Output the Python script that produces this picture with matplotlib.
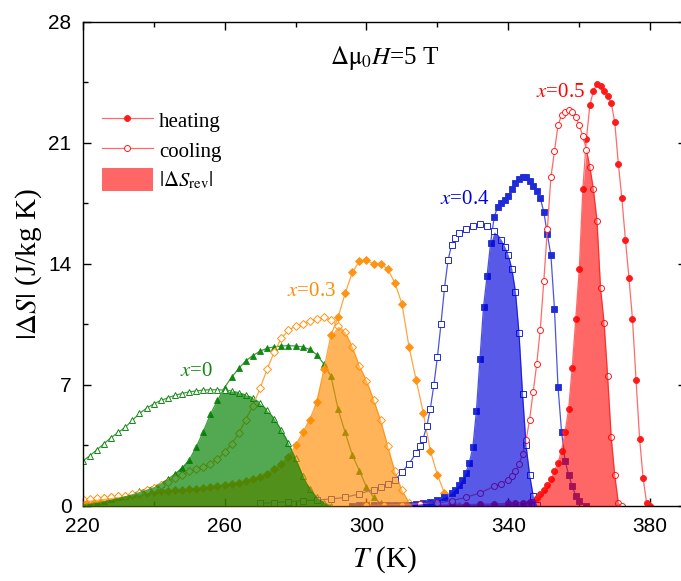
import numpy as np
import matplotlib
matplotlib.use("Agg")
import matplotlib.pyplot as plt
from matplotlib.patches import Patch

plt.rcParams["mathtext.fontset"] = "stix"
plt.rcParams["font.family"] = ["Liberation Serif", "DejaVu Serif"]

# x = 0 (triangles)
T_heat_0 = [220, 222, 224, 226, 228, 230, 232, 234, 236, 238, 240, 242, 244, 246, 248, 250, 252, 254,
            256, 258, 260, 262, 264, 266, 268, 270, 272, 274, 276, 278, 280, 282, 284, 286, 288, 290,
            292, 294, 296, 298, 300, 302, 304, 306]
S_heat_0 = [0.1, 0.17, 0.22, 0.3, 0.38, 0.5, 0.6, 0.72, 0.85, 1.0, 1.12, 1.3, 1.55, 1.85, 2.2, 2.65, 3.4, 4.3,
            5.3, 6.1, 6.85, 7.45, 7.95, 8.4, 8.7, 8.95, 9.12, 9.2, 9.25, 9.27, 9.25, 9.2, 9.05, 8.75, 8.2, 7.5,
            5.6, 4.25, 2.95, 2.05, 1.1, 0.5, 0.15, 0.02]
T_cool_0 = [220, 222, 224, 226, 228, 230, 232, 234, 236, 238, 240, 242, 244, 246, 248, 250, 252, 254,
            256, 258, 260, 262, 264, 266, 268, 270, 272, 274, 276, 278, 280, 282, 284, 286, 288, 290]
S_cool_0 = [2.6, 2.9, 3.25, 3.6, 3.95, 4.25, 4.55, 4.95, 5.35, 5.65, 5.9, 6.1, 6.25, 6.4, 6.5, 6.6, 6.65, 6.7,
            6.72, 6.72, 6.7, 6.65, 6.55, 6.42, 6.25, 5.95, 5.55, 5.05, 4.4, 3.65, 2.75, 1.75, 1.0, 0.5, 0.18, 0.02]
T_rev_0 = [220, 225, 230, 235, 240, 245, 250, 253, 256, 259, 262, 265, 268, 271, 274, 277, 280, 283, 286, 289, 291]
S_rev_0 = [0.1, 0.26, 0.5, 0.78, 1.12, 1.7, 2.65, 3.85, 5.3, 6.5, 6.65, 6.5, 6.25, 5.75, 5.05, 4.05, 2.75, 1.35,
           0.5, 0.08, 0.0]

# x = 0.3 (diamonds)
T_heat_3 = [220, 222, 224, 226, 228, 230, 232, 234, 236, 238, 240, 242, 244, 246, 248, 250, 252, 254, 256, 258,
            260, 262, 264, 266, 268, 270, 272, 274, 276, 278, 280, 282, 284, 286, 288, 290, 292, 294, 296, 298,
            300, 302, 304, 306, 308, 310, 312, 314, 316, 318, 320, 322, 324, 326]
S_heat_3 = [0.3, 0.35, 0.4, 0.45, 0.5, 0.55, 0.6, 0.65, 0.7, 0.75, 0.8, 0.85, 0.88, 0.9, 0.93, 0.96, 1.0, 1.05,
            1.1, 1.17, 1.23, 1.28, 1.35, 1.45, 1.57, 1.7, 1.87, 2.15, 2.45, 2.85, 3.5, 4.25, 5.0, 6.0, 7.9, 9.9,
            10.9, 12.3, 13.5, 14.15, 14.2, 14.0, 14.0, 13.7, 12.9, 11.7, 9.2, 7.3, 5.4, 3.2, 1.8, 0.75, 0.15, 0.02]
T_cool_3 = [220, 222, 224, 226, 228, 230, 232, 234, 236, 238, 240, 242, 244, 246, 248, 250, 252, 254, 256, 258,
            260, 262, 264, 266, 268, 270, 272, 274, 276, 278, 280, 282, 284, 286, 288, 290, 292, 294, 296, 298,
            300, 302, 304, 306, 308, 310, 312, 314]
S_cool_3 = [0.4, 0.42, 0.45, 0.48, 0.5, 0.55, 0.6, 0.68, 0.78, 0.9, 1.05, 1.2, 1.4, 1.6, 1.8, 2.0, 2.15, 2.28,
            2.45, 2.7, 3.1, 3.6, 4.2, 5.0, 5.8, 6.8, 7.9, 8.9, 9.7, 10.15, 10.4, 10.55, 10.7, 10.8, 10.9, 10.75,
            10.4, 10.05, 9.2, 8.1, 7.25, 6.15, 4.95, 3.45, 2.0, 0.9, 0.2, 0.02]
T_rev_3 = [220, 225, 230, 235, 240, 245, 250, 255, 260, 265, 270, 274, 278, 282, 285, 288, 290, 292, 294, 296,
           298, 300, 302, 304, 306, 308, 310, 312, 313]
S_rev_3 = [0.3, 0.42, 0.55, 0.67, 0.8, 0.89, 0.96, 1.07, 1.23, 1.4, 1.7, 2.15, 2.85, 4.25, 5.5, 7.9, 9.9, 10.4,
           10.05, 9.2, 8.1, 7.25, 6.15, 4.95, 3.45, 2.0, 0.9, 0.2, 0.0]

# x = 0.4 (squares)
T_heat_4 = [296, 298, 300, 302, 304, 306, 308, 310, 312, 314, 316, 318, 320, 322, 324, 325, 326, 327, 328, 329,
            330, 331, 332, 333, 334, 335, 336, 337, 338, 339, 340, 341, 342, 343, 344, 345, 346, 347, 348, 349,
            350, 351, 352, 353, 354, 355, 356, 357, 358, 359, 360, 362]
S_heat_4 = [0.02, 0.03, 0.04, 0.05, 0.06, 0.07, 0.08, 0.08, 0.08, 0.1, 0.15, 0.22, 0.33, 0.5, 0.75, 0.95, 1.2,
            1.5, 1.9, 2.5, 3.4, 5.5, 8.5, 11.5, 13.3, 15.2, 16.7, 17.3, 17.5, 17.7, 17.9, 18.3, 18.7, 18.9, 19.0,
            19.0, 18.8, 18.5, 18.2, 17.8, 17.0, 15.7, 14.5, 11.4, 6.9, 4.3, 2.6, 1.8, 1.14, 0.6, 0.3, 0.0]
T_cool_4 = [270, 274, 278, 282, 286, 290, 294, 298, 302, 304, 306, 308, 310, 312, 314, 315, 316, 317, 318, 319,
            320, 321, 322, 323, 324, 325, 326, 328, 330, 332, 334, 336, 338, 339, 340, 341, 342, 343, 344, 345,
            346, 347, 348]
S_cool_4 = [0.15, 0.2, 0.25, 0.3, 0.35, 0.4, 0.5, 0.7, 0.95, 1.1, 1.3, 1.5, 1.95, 2.45, 3.05, 3.45, 3.9, 4.6,
            5.6, 7.0, 8.6, 10.5, 12.6, 14.2, 15.1, 15.5, 15.8, 16.0, 16.2, 16.3, 16.2, 15.9, 15.4, 15.0, 14.5,
            13.7, 12.4, 10.0, 6.5, 3.5, 1.8, 0.6, 0.05]
T_rev_4 = [300, 305, 310, 315, 318, 320, 322, 324, 326, 328, 329, 330, 331, 332, 333, 334, 335, 336, 337, 338,
           339, 340, 341, 342, 343, 344, 345, 346, 347, 348]
S_rev_4 = [0.04, 0.07, 0.08, 0.12, 0.22, 0.33, 0.5, 0.75, 1.2, 1.9, 2.5, 3.4, 5.5, 8.5, 11.5, 13.3, 15.2, 15.85,
           15.65, 15.4, 15.0, 14.5, 13.7, 12.4, 10.0, 6.5, 3.5, 1.8, 0.6, 0.05]

# x = 0.5 (circles)
T_heat_5 = [320, 324, 328, 332, 336, 340, 342, 344, 346, 348, 349, 350, 351, 352, 353, 354, 355, 356, 357, 358,
            359, 360, 361, 362, 363, 364, 365, 366, 367, 368, 369, 370, 371, 372, 373, 374, 375, 376, 377, 378,
            379, 380]
S_heat_5 = [0.05, 0.06, 0.08, 0.1, 0.12, 0.15, 0.18, 0.2, 0.25, 0.45, 0.7, 0.9, 1.2, 1.55, 2.0, 2.5, 3.2, 4.3,
            5.6, 8.0, 10.8, 13.7, 18.3, 21.2, 23.2, 24.0, 24.4, 24.3, 24.0, 23.7, 23.3, 22.2, 19.8, 17.8, 15.4,
            13.2, 10.8, 7.3, 3.9, 1.6, 0.15, 0.0]
T_cool_5 = [300, 305, 310, 315, 320, 324, 328, 332, 336, 338, 340, 341, 342, 343, 344, 345, 346, 347, 348, 349,
            350, 351, 352, 353, 354, 355, 356, 357, 358, 359, 360, 361, 362, 363, 364, 365, 366, 367, 368, 369,
            370, 371, 372]
S_cool_5 = [0.03, 0.05, 0.08, 0.12, 0.17, 0.3, 0.5, 0.75, 1.14, 1.3, 1.52, 1.75, 2.0, 2.4, 3.0, 3.8, 5.0, 6.6,
            8.2, 10.2, 13.0, 16.0, 19.0, 20.5, 22.0, 22.6, 22.8, 22.9, 22.8, 22.5, 22.0, 21.4, 20.6, 19.6, 18.3,
            16.5, 12.6, 10.6, 7.5, 4.0, 1.8, 0.2, 0.0]
T_rev_5 = [320, 325, 330, 335, 340, 344, 346, 348, 350, 351, 352, 353, 354, 355, 356, 357, 358, 359, 360, 361,
           362, 363, 364, 365, 366, 367, 368, 369, 370, 371, 372]
S_rev_5 = [0.05, 0.07, 0.09, 0.11, 0.15, 0.2, 0.25, 0.45, 0.9, 1.2, 1.55, 2.0, 2.5, 3.2, 4.3, 5.6, 8.0, 10.8,
           13.7, 18.3, 20.6, 19.6, 18.3, 16.5, 12.6, 10.6, 7.5, 4.0, 1.8, 0.2, 0.0]

labels = ["0", "0.3", "0.4", "0.5"]
label_pos = [(252, 7.8), (284.5, 12.4), (327.6, 17.7), (354.6, 23.9)]

fig = plt.figure(figsize=(6.81, 5.81), dpi=100)
ax = fig.add_axes([0.1214, 0.1291, 0.8855, 0.8336])

groups = [
    (T_heat_0, S_heat_0, T_cool_0, S_cool_0, T_rev_0, S_rev_0, "^", 4.5, "#128812", "#3c9e3c", "#008000", 0.68),
    (T_heat_3, S_heat_3, T_cool_3, S_cool_3, T_rev_3, S_rev_3, "D", 3.8, "#ff9414", "#ffa640", "#ff8c00", 0.65),
    (T_heat_4, S_heat_4, T_cool_4, S_cool_4, T_rev_4, S_rev_4, "s", 4.0, "#1f2bd6", "#4b55e0", "#0000dc", 0.65),
    (T_heat_5, S_heat_5, T_cool_5, S_cool_5, T_rev_5, S_rev_5, "o", 4.3, "#ff1a1a", "#ff6b6b", "#ff0000", 0.6),
]

handles = []
for i, (th, sh, tc, sc, tr, sr, m, ms, mc, lc, fc, a) in enumerate(groups):
    h1, = ax.plot(th, sh, marker=m, ms=ms, color=lc, mfc=mc, mec=mc, mew=0.6, lw=0.9, zorder=2,
                  label="heating")
    h2, = ax.plot(tc, sc, marker=m, ms=ms, color=lc, mfc="white", mec=mc, mew=0.7, lw=0.9, zorder=2,
                  label="cooling")
    if i == 3:
        handles = [h1, h2]

# reversible parts: drawn over all curves, x=0.5 first and x=0 last
for i in [3, 2, 1, 0]:
    th, sh, tc, sc, tr, sr, m, ms, mc, lc, fc, a = groups[i]
    ax.fill_between(tr, 0, sr, color=fc, alpha=a, lw=0, zorder=3)
    tx, ty = label_pos[i]
    ax.text(tx, ty, r"$x$=" + labels[i], color=fc if i != 0 else "#128812", fontsize=15,
            ha="center", va="center", zorder=5)

handles.append(Patch(facecolor="#ff0000", alpha=0.6, lw=0, label=r"$|\Delta S_{\mathrm{rev}}|$"))
ax.legend(handles=handles, loc="upper left", bbox_to_anchor=(0.032, 0.82), frameon=False,
          fontsize=15, handlelength=2.45, handleheight=1.3, labelspacing=0.3, handletextpad=0.3,
          borderpad=0, borderaxespad=0)

ax.text(0.5, 0.925, r"$\Delta\mathrm{\mu}_0H$=5 T", transform=ax.transAxes, ha="center", va="center",
        fontsize=18)

ax.set_xlim(220, 390)
ax.set_ylim(0, 28)
ax.set_xticks([220, 260, 300, 340, 380])
ax.set_xticks(np.arange(220, 391, 20), minor=True)
ax.set_yticks([0, 7, 14, 21, 28])
ax.set_yticks(np.arange(0, 28.1, 3.5), minor=True)
ax.tick_params(which="both", direction="in", top=True, right=True, width=1,
               labelsize=15, labelfontfamily="Liberation Sans")
ax.tick_params(axis="x", pad=8)
ax.tick_params(axis="y", pad=8)
ax.tick_params(which="major", length=5.8)
ax.tick_params(which="minor", length=3.4)
for sp in ax.spines.values():
    sp.set_linewidth(1)

ax.set_xlabel(r"$T$ (K)", fontsize=21, labelpad=6)
ax.set_ylabel(r"$|\Delta S|$ (J/kg K)", fontsize=21, labelpad=3)

fig.savefig("out.png", dpi=100)
